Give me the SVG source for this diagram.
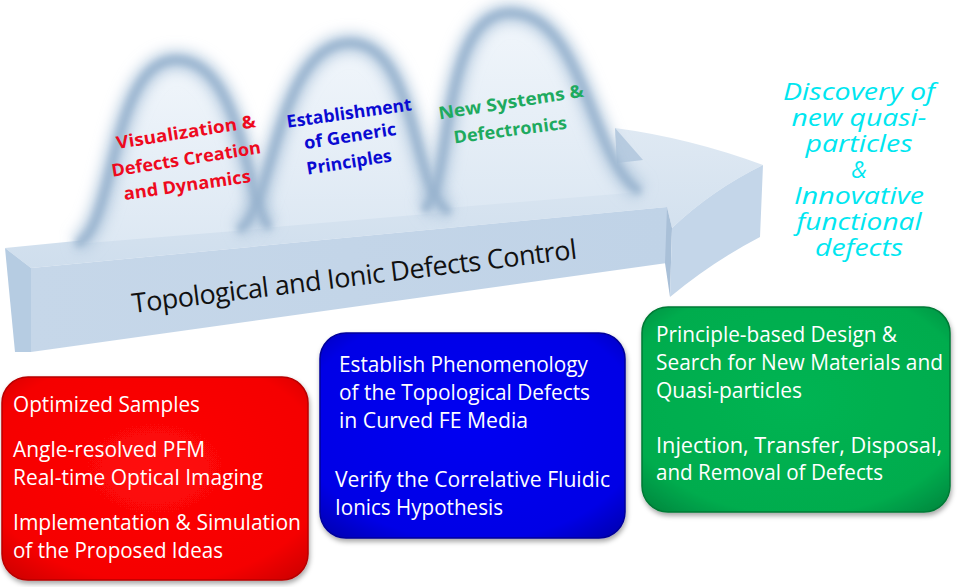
<svg xmlns="http://www.w3.org/2000/svg" width="959" height="587" viewBox="0 0 959 587">
<defs>
<style>
.bx{font-family:"Open Sans","Liberation Sans",sans-serif;font-size:21px;fill:#ffffff}
.lbl{font-family:"Open Sans","Liberation Sans",sans-serif;font-size:17.5px;font-weight:bold;text-anchor:middle}
.cy{font-family:"Open Sans","Liberation Sans",sans-serif;font-size:23px;font-style:italic;fill:#00e6f0;text-anchor:middle}
.bumpfill{fill:url(#gBump);stroke:none}
.rimwide{fill:none;stroke:#b4c9de;stroke-width:18;filter:url(#fBlurW)}
.rim{fill:none;stroke:#97b2ce;stroke-width:7;filter:url(#fBlur)}
</style>
<linearGradient id="gBump" x1="0" y1="0" x2="0" y2="1">
<stop offset="0" stop-color="#f1f6fb"/><stop offset="1" stop-color="#dde8f3"/>
</linearGradient>
<linearGradient id="gFront" x1="0" y1="0" x2="1" y2="0">
<stop offset="0" stop-color="#c6d7e9"/><stop offset="1" stop-color="#c0d3e7"/>
</linearGradient>
<linearGradient id="gTop" x1="0" y1="0" x2="0" y2="1">
<stop offset="0" stop-color="#dfe9f3"/><stop offset="1" stop-color="#cfdeed"/>
</linearGradient>
<radialGradient id="gRed" cx="0.5" cy="0.45" r="0.7">
<stop offset="0" stop-color="#ff0a0a"/><stop offset="0.8" stop-color="#f50000"/><stop offset="1" stop-color="#d20000"/>
</radialGradient>
<radialGradient id="gBlue" cx="0.5" cy="0.45" r="0.7">
<stop offset="0" stop-color="#0000f2"/><stop offset="0.8" stop-color="#0000e6"/><stop offset="1" stop-color="#0000b8"/>
</radialGradient>
<radialGradient id="gGreen" cx="0.5" cy="0.45" r="0.7">
<stop offset="0" stop-color="#00b452"/><stop offset="0.8" stop-color="#00ac4e"/><stop offset="1" stop-color="#008c40"/>
</radialGradient>
<filter id="fBlur" x="-20%" y="-20%" width="140%" height="140%"><feGaussianBlur stdDeviation="3.5"/></filter>
<filter id="fBlurW" x="-20%" y="-20%" width="140%" height="140%"><feGaussianBlur stdDeviation="7"/></filter>
<filter id="fShadow" x="-10%" y="-10%" width="120%" height="125%"><feDropShadow dx="1" dy="3" stdDeviation="2.5" flood-color="#000" flood-opacity="0.35"/></filter>
</defs>
<rect width="959" height="587" fill="#ffffff"/>

<g id="main-arrow">
<path d="M5,248 L615,188 L617,163 L615,128 Q690,138 763,165 Q712,190 672,228 L667,207 L31,268 Z" fill="url(#gTop)"/>
<path d="M615,128 L643,160 L617,163 Z" fill="#b7cbe0"/>
<g id="bumps">
<path class="bumpfill" d="M76,244 C116,232 110,60 176,60 C244,60 246,206 270,228 Z"/>
<path class="bumpfill" d="M238,230 C273,216 276,43 350,43 C418,43 412,196 450,212 Z"/>
<path class="bumpfill" d="M423,210 C454,192 438,13 510,13 C584,13 590,160 640,192 Z"/>
<path class="rimwide" d="M76,244 C116,232 110,60 176,60 C244,60 246,206 270,228"/>
<path class="rimwide" d="M238,230 C273,216 276,43 350,43 C418,43 412,196 450,212"/>
<path class="rimwide" d="M423,210 C454,192 438,13 510,13 C584,13 590,160 640,192"/>
<path class="rim" d="M76,244 C116,232 110,60 176,60 C244,60 246,206 270,228"/>
<path class="rim" d="M238,230 C273,216 276,43 350,43 C418,43 412,196 450,212"/>
<path class="rim" d="M423,210 C454,192 438,13 510,13 C584,13 590,160 640,192"/>
</g>
<path d="M31,268 L667,207 L667,263 L31,352 Z" fill="url(#gFront)"/>
<path d="M5,248 L31,268 L31,352 L15,352 Z" fill="#b6cce2"/>
<path d="M667,207 L672,228 L670,297 L665,263 Z" fill="#a9c0d8"/>
<path d="M672,228 Q712,190 763,165 L760,237 Q712,262 670,297 Z" fill="#c4d6e9"/>
<text x="0" y="0" transform="translate(133,313) rotate(-7)" font-family="'Open Sans','Liberation Sans',sans-serif" font-size="27" fill="#111111" textLength="448" lengthAdjust="spacing">Topological and Ionic Defects Control</text>
</g>

<g id="label-visualization" class="lbl" fill="#ee0a1e">
<text transform="translate(187,138) rotate(-9)" textLength="141" lengthAdjust="spacingAndGlyphs">Visualization &amp;</text>
<text transform="translate(187,165) rotate(-9)" textLength="151" lengthAdjust="spacingAndGlyphs">Defects Creation</text>
<text transform="translate(188,191) rotate(-8)" textLength="128" lengthAdjust="spacingAndGlyphs">and Dynamics</text>
</g>
<g id="label-establishment" class="lbl" fill="#0a0ad2">
<text transform="translate(350,119) rotate(-8)" textLength="126" lengthAdjust="spacingAndGlyphs">Establishment</text>
<text transform="translate(351,142) rotate(-9)" textLength="93" lengthAdjust="spacingAndGlyphs">of Generic</text>
<text transform="translate(350,168) rotate(-9)" textLength="86" lengthAdjust="spacingAndGlyphs">Principles</text>
</g>
<g id="label-newsystems" class="lbl" fill="#1eaa5f">
<text transform="translate(512,108) rotate(-9)" textLength="147" lengthAdjust="spacingAndGlyphs">New Systems &amp;</text>
<text transform="translate(511,136) rotate(-7.5)" textLength="114" lengthAdjust="spacingAndGlyphs">Defectronics</text>
</g>

<g id="outcome">
<text class="cy" x="859" y="100" textLength="152" lengthAdjust="spacingAndGlyphs">Discovery of</text>
<text class="cy" x="859" y="126" textLength="135" lengthAdjust="spacingAndGlyphs">new quasi-</text>
<text class="cy" x="859" y="152" textLength="107" lengthAdjust="spacingAndGlyphs">particles</text>
<text class="cy" x="859" y="178">&amp;</text>
<text class="cy" x="859" y="204" textLength="130" lengthAdjust="spacingAndGlyphs">Innovative</text>
<text class="cy" x="859" y="230" textLength="125" lengthAdjust="spacingAndGlyphs">functional</text>
<text class="cy" x="859" y="256" textLength="88" lengthAdjust="spacingAndGlyphs">defects</text>
</g>

<g id="box-red">
<rect x="2" y="377" width="306" height="203" rx="26" fill="url(#gRed)" stroke="#b80000" stroke-width="1.5" filter="url(#fShadow)"/>
<text class="bx" x="13" y="412" textLength="187" lengthAdjust="spacingAndGlyphs">Optimized Samples</text>
<text class="bx" x="13" y="457" textLength="192" lengthAdjust="spacingAndGlyphs">Angle-resolved PFM</text>
<text class="bx" x="13" y="485" textLength="250" lengthAdjust="spacingAndGlyphs">Real-time Optical Imaging</text>
<text class="bx" x="13" y="530" textLength="288" lengthAdjust="spacingAndGlyphs">Implementation &amp; Simulation</text>
<text class="bx" x="13" y="558" textLength="210" lengthAdjust="spacingAndGlyphs">of the Proposed Ideas</text>
</g>

<g id="box-blue">
<rect x="320" y="333" width="305" height="205" rx="26" fill="url(#gBlue)" stroke="#00009a" stroke-width="1.5" filter="url(#fShadow)"/>
<text class="bx" x="339" y="372" textLength="249" lengthAdjust="spacingAndGlyphs">Establish Phenomenology</text>
<text class="bx" x="339" y="400" textLength="251" lengthAdjust="spacingAndGlyphs">of the Topological Defects</text>
<text class="bx" x="339" y="428" textLength="189" lengthAdjust="spacingAndGlyphs">in Curved FE Media</text>
<text class="bx" x="335" y="487" textLength="275" lengthAdjust="spacingAndGlyphs">Verify the Correlative Fluidic</text>
<text class="bx" x="335" y="515" textLength="168" lengthAdjust="spacingAndGlyphs">Ionics Hypothesis</text>
</g>

<g id="box-green">
<rect x="642" y="307" width="308" height="205" rx="26" fill="url(#gGreen)" stroke="#007a36" stroke-width="1.5" filter="url(#fShadow)"/>
<text class="bx" x="656" y="342" textLength="241" lengthAdjust="spacingAndGlyphs">Principle-based Design &amp;</text>
<text class="bx" x="656" y="370" textLength="287" lengthAdjust="spacingAndGlyphs">Search for New Materials and</text>
<text class="bx" x="656" y="398" textLength="146" lengthAdjust="spacingAndGlyphs">Quasi-particles</text>
<text class="bx" x="656" y="453" textLength="286" lengthAdjust="spacingAndGlyphs">Injection, Transfer, Disposal,</text>
<text class="bx" x="656" y="480" textLength="227" lengthAdjust="spacingAndGlyphs">and Removal of Defects</text>
</g>
</svg>
